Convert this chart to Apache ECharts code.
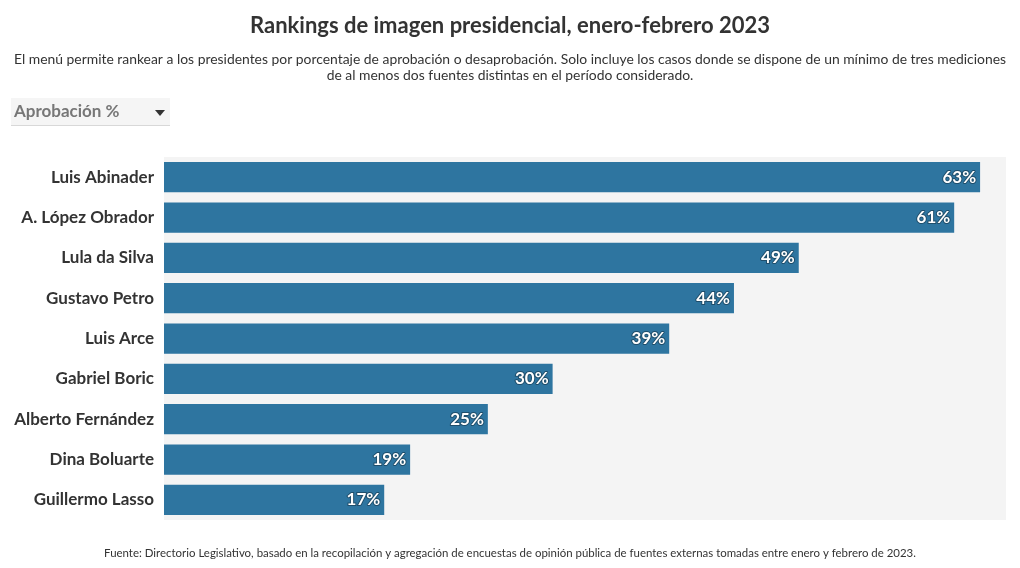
<!DOCTYPE html>
<html><head><meta charset="utf-8">
<script src="https://cdn.jsdelivr.net/npm/echarts@6/dist/echarts.min.js"></script>
<style>html,body{margin:0;padding:0;background:#fff}#c{width:1020px;height:568px}</style>
</head><body><div id="c"></div>
<script>
const categories = ["Luis Abinader","A. López Obrador","Lula da Silva","Gustavo Petro","Luis Arce","Gabriel Boric","Alberto Fernández","Dina Boluarte","Guillermo Lasso"];
const approval = [63,61,49,44,39,30,25,19,17];
const titleText = "Rankings de imagen presidencial, enero-febrero 2023";
const subtitleText = "El menú permite rankear a los presidentes por porcentaje de aprobación o desaprobación. Solo incluye los casos donde se dispone de un mínimo de tres mediciones\nde al menos dos fuentes distintas en el período considerado.";
const sourceText = "Fuente: Directorio Legislativo, basado en la recopilación y agregación de encuestas de opinión pública de fuentes externas tomadas entre enero y febrero de 2023.";
const menuText = "Aprobación %";

const F = "Lato, 'Noto Sans', sans-serif";
const chart = echarts.init(document.getElementById('c'), null, {renderer:'canvas'});
chart.setOption({
  animation:false,
  backgroundColor:'#fff',
  title:[
    {text:titleText,left:'center',top:10,textStyle:{fontFamily:F,fontSize:22,fontWeight:'bold',color:'#333'}},
    {text:sourceText,left:'center',top:543,textStyle:{fontFamily:F,fontSize:11.45,fontWeight:'normal',color:'#333'}}
  ],
  graphic:[
    {type:'text',x:510,y:52,style:{text:subtitleText,fontFamily:F,fontSize:13.9,fill:'#333',lineHeight:16,align:'center',verticalAlign:'top'}},
    {type:'rect',left:11,top:98,shape:{width:159,height:28},style:{fill:'#f5f5f5'}},
    {type:'rect',left:11,top:125,shape:{width:159,height:1},style:{fill:'#d8d8d8'}},
    {type:'text',left:14,top:103,style:{text:menuText,fontFamily:F,fontSize:17,fontWeight:'bold',fill:'#777'}},
    {type:'polygon',shape:{points:[[155,110],[165,110],[160,116]]},style:{fill:'#333'}}
  ],
  grid:{left:164,right:14,top:157,bottom:48,backgroundColor:'#f4f4f4',show:true,borderWidth:0},
  xAxis:{type:'value',min:0,max:65,show:false,splitLine:{show:false}},
  yAxis:{type:'category',data:categories,inverse:true,
    axisLine:{show:false},axisTick:{show:false},
    axisLabel:{fontFamily:F,fontSize:17,fontWeight:'bold',color:'#333',margin:10}},
  series:[{type:'bar',data:approval,barCategoryGap:'25%',
    itemStyle:{color:'#2e75a0'},
    label:{show:true,position:'insideRight',formatter:p=>p.value+'%',
      fontFamily:F,fontSize:17,fontWeight:'bold',color:'#fff',textBorderColor:'#1f4e6b',textBorderWidth:2,distance:4}
  }]
});
</script></body></html>
